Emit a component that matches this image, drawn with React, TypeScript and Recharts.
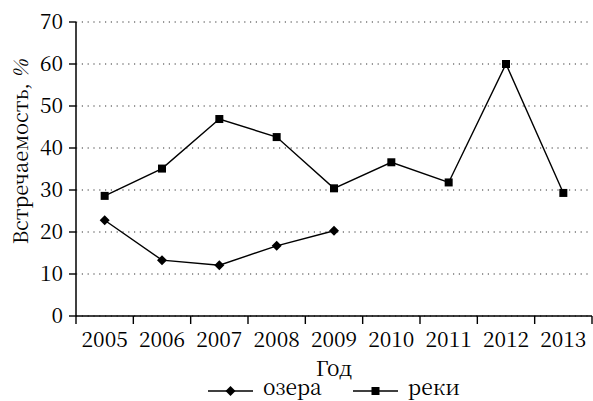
import {
  LineChart,
  Line,
  XAxis,
  YAxis,
  CartesianGrid,
  Legend,
  ReferenceArea,
} from "recharts";

const years = ["2005", "2006", "2007", "2008", "2009", "2010", "2011", "2012", "2013"];
const lakes = [22.8, 13.3, 12.1, 16.7, 20.3, null, null, null, null];
const rivers = [28.6, 35.1, 46.9, 42.6, 30.4, 36.6, 31.8, 60.0, 29.3];
const yTicks = [0, 10, 20, 30, 40, 50, 60, 70];

const data = years.map((year, i) => ({ year, lakes: lakes[i], rivers: rivers[i] }));

const FONT = "'Noto Serif CJK SC', 'Liberation Serif', serif";
const FONT_SIZE = 21;
const X_TICK_SIZE = 8;
const X_TICK_MARGIN = 8;

// year label plus the tick marks at the band edges (not at the band centres)
function YearTick(props: any) {
  const { x, y, payload, index, visibleTicksCount } = props;
  const half = payload.offset || 0;
  const top = y - X_TICK_SIZE - X_TICK_MARGIN;
  const last = index === visibleTicksCount - 1;
  return (
    <g>
      <line x1={x - half} x2={x - half} y1={top} y2={top + X_TICK_SIZE} stroke="#000" strokeWidth={1.4} />
      {last && (
        <line x1={x + half} x2={x + half} y1={top} y2={top + X_TICK_SIZE} stroke="#000" strokeWidth={1.4} />
      )}
      <text x={x} y={y} dy="0.71em" textAnchor="middle" fontFamily={FONT} fontSize={FONT_SIZE} fill="#000">
        {payload.value}
      </text>
    </g>
  );
}

function YLabel(props: any) {
  const vb = props.viewBox;
  const cx = vb.x + 28;
  const cy = vb.y + vb.height / 2 - 17;
  return (
    <text
      x={cx}
      y={cy}
      transform={`rotate(-90 ${cx} ${cy})`}
      textAnchor="middle"
      fontFamily={FONT}
      fontSize={20}
      fill="#000"
    >
      Встречаемость, <tspan fontStyle="italic">%</tspan>
    </text>
  );
}

function Square(props: any) {
  const { cx, cy } = props;
  if (cx == null || cy == null) return null;
  return <rect x={cx - 4} y={cy - 4} width={8} height={8} fill="#000" />;
}

function Diamond(props: any) {
  const { cx, cy } = props;
  if (cx == null || cy == null) return null;
  return <polygon points={`${cx},${cy - 5} ${cx + 5},${cy} ${cx},${cy + 5} ${cx - 5},${cy}`} fill="#000" />;
}

function LegendContent(props: any) {
  const items = props.payload || [];
  return (
    <div
      style={{
        display: "flex",
        justifyContent: "center",
        alignItems: "flex-start",
        height: 25,
        fontFamily: FONT,
        fontSize: FONT_SIZE,
        lineHeight: "21px",
        color: "#000",
      }}
    >
      {items.map((p: any, i: number) => (
        <div key={p.value} style={{ display: "flex", alignItems: "flex-start", marginLeft: i ? 31 : 0 }}>
          <svg width={45} height={21} style={{ overflow: "visible" }}>
            <line x1={0} x2={45} y1={15} y2={15} stroke="#000" strokeWidth={1.4} />
            {p.dataKey === "lakes" ? (
              <Diamond cx={22.5} cy={15} />
            ) : (
              <Square cx={22.5} cy={15} />
            )}
          </svg>
          <span style={{ marginLeft: 10 }}>{p.value}</span>
        </div>
      ))}
    </div>
  );
}

export default function App() {
  return (
    <div style={{ position: "absolute", left: 0, top: 0 }}>
      <LineChart width={593} height={401} data={data} margin={{ top: 22, right: 1, left: 0, bottom: 0 }}>
        <CartesianGrid vertical={false} stroke="#333" strokeWidth={1.2} strokeDasharray="1.2 4.6" />
        <XAxis
          dataKey="year"
          scale="band"
          height={60}
          interval={0}
          tickLine={false}
          tickSize={X_TICK_SIZE}
          tickMargin={X_TICK_MARGIN}
          axisLine={{ stroke: "#000", strokeWidth: 1.5 }}
          tick={<YearTick />}
          label={{
            value: "Год",
            position: "insideBottom",
            offset: 0,
            fontFamily: FONT,
            fontSize: FONT_SIZE,
            fill: "#000",
          }}
        />
        <YAxis
          domain={[0, 70]}
          ticks={yTicks}
          interval={0}
          width={76}
          tickSize={7}
          tickMargin={6}
          axisLine={{ stroke: "#000", strokeWidth: 1.5 }}
          tickLine={{ stroke: "#000", strokeWidth: 1.4 }}
          tick={{ fontFamily: FONT, fontSize: FONT_SIZE, fill: "#000" }}
          label={(p: any) => <YLabel {...p} />}
        />
        <ReferenceArea
          x1="2005"
          x2="2013"
          y1={0}
          y2={70}
          fill="none"
          fillOpacity={0}
          stroke="#000"
          strokeWidth={1.5}
        />
        <Legend
          verticalAlign="bottom"
          content={<LegendContent />}
          wrapperStyle={{ left: 76, width: 516 }}
        />
        <Line
          name="озера"
          dataKey="lakes"
          stroke="#000"
          strokeWidth={1.4}
          dot={<Diamond />}
          activeDot={false}
          isAnimationActive={false}
        />
        <Line
          name="реки"
          dataKey="rivers"
          stroke="#000"
          strokeWidth={1.4}
          dot={<Square />}
          activeDot={false}
          isAnimationActive={false}
        />
      </LineChart>
    </div>
  );
}
